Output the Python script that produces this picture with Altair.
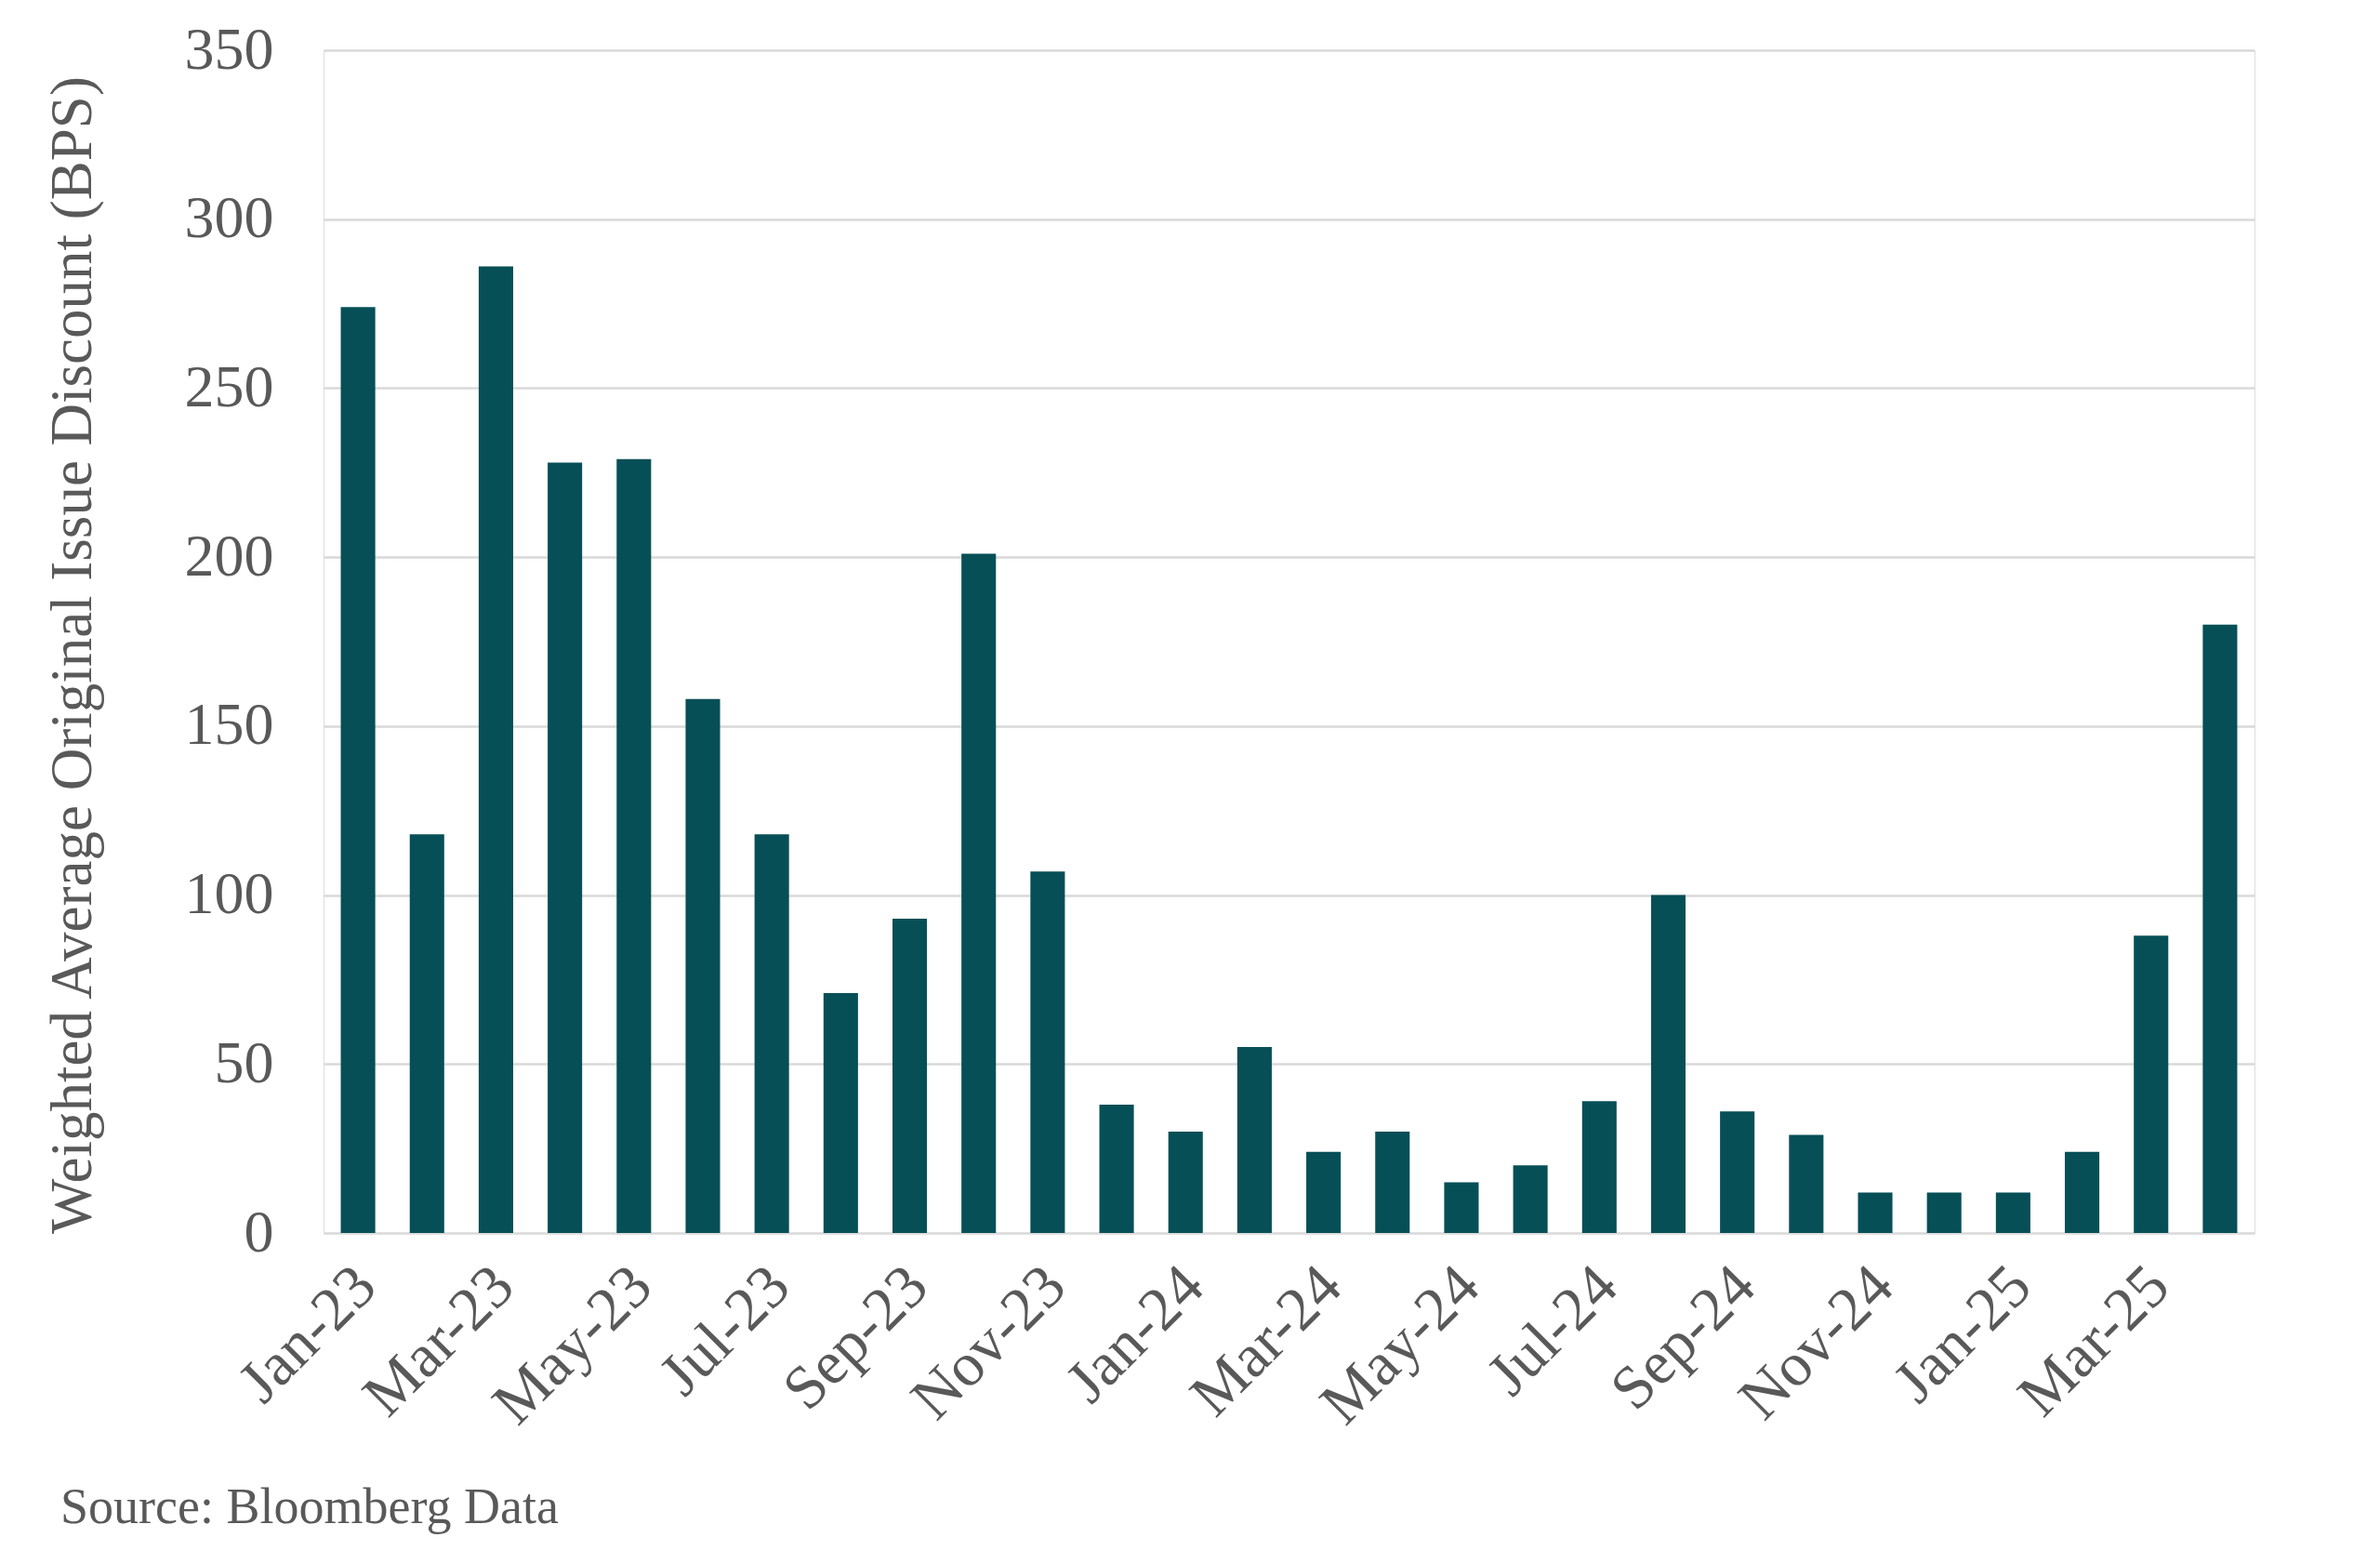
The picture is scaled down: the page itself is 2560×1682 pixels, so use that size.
import altair as alt
import pandas as pd

months = ["Jan-23", "Feb-23", "Mar-23", "Apr-23", "May-23", "Jun-23", "Jul-23",
          "Aug-23", "Sep-23", "Oct-23", "Nov-23", "Dec-23", "Jan-24", "Feb-24",
          "Mar-24", "Apr-24", "May-24", "Jun-24", "Jul-24", "Aug-24", "Sep-24",
          "Oct-24", "Nov-24", "Dec-24", "Jan-25", "Feb-25", "Mar-25", "Apr-25"]
oid_bps = [274, 118, 286, 228, 229, 158, 118, 71, 93, 201, 107, 38, 30, 55,
           24, 30, 15, 20, 39, 100, 36, 29, 12, 12, 12, 24, 88, 180]
shown_labels = months[::2]
y_ticks = [0, 50, 100, 150, 200, 250, 300, 350]

df = pd.DataFrame({"month": months, "oid": oid_bps})

FONT = "Liberation Serif"
TXT = "#595959"

label_expr = "indexof(" + str(shown_labels).replace("'", '"') + ", datum.value) >= 0 ? datum.value : ''"

chart = alt.Chart(df).mark_bar(color="#074F56").encode(
    x=alt.X("month:N", sort=months,
            scale=alt.Scale(paddingInner=0.5, paddingOuter=0.25),
            axis=alt.Axis(title=None, labelAngle=-45, labelAlign="right",
                          labelBaseline="top", labelPadding=24, labelOffset=-14,
                          labelExpr=label_expr, ticks=False, domain=False,
                          labelFont=FONT, labelFontSize=66, labelColor=TXT,
                          labelOverlap=False, labelLimit=0)),
    y=alt.Y("oid:Q", scale=alt.Scale(domain=[0, 350], nice=False),
            axis=alt.Axis(title="Weighted Average Original Issue Discount (BPS)",
                          values=y_ticks, format="d", ticks=False, domain=False,
                          labelFont=FONT, labelFontSize=64, labelColor=TXT,
                          labelPadding=54, titleFont=FONT, titleFontSize=63,
                          titleFontWeight="normal", titleColor=TXT,
                          titlePadding=88, titleY=650,
                          gridColor="#D9D9D9", gridWidth=2.5)),
).properties(
    width=2077, height=1272,
    title=alt.TitleParams("Source: Bloomberg Data", orient="bottom", anchor="start",
                          frame="group", dx=-283, offset=51, font=FONT,
                          fontSize=54, fontWeight="normal", color=TXT),
    autosize=alt.AutoSizeParams(type="none"),
    padding={"left": 340, "top": 46, "right": 100, "bottom": 346},
).configure_view(stroke=None).configure(background="white")

chart.save("out.html", embed_options={"renderer": "svg", "actions": False})
